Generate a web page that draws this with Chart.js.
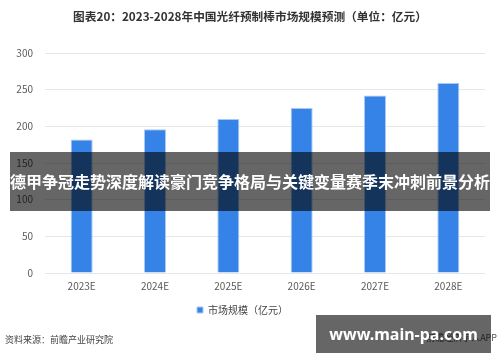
<!DOCTYPE html>
<html>
<head>
<meta charset="utf-8">
<script src="https://cdn.jsdelivr.net/npm/chart.js@4"></script>
<style>
  html, body { margin: 0; padding: 0; background: #fff; }
  #wrap { position: relative; width: 500px; height: 362px; overflow: hidden;
          font-family: 'Noto Sans CJK SC', 'Noto Sans', sans-serif; }
  #chart { position: absolute; left: 0; top: 0; }
  .title { position: absolute; left: 0; top: 7px; width: 500px; text-align: center;
           font-size: 11.7px; font-weight: bold; color: #333; white-space: nowrap; }
  .source { position: absolute; left: 5px; top: 333px; font-size: 9px; color: #444; }
  .app { position: absolute; right: 3px; top: 331px; font-size: 9px; color: #555; }
  .banner { position: absolute; left: 10px; top: 152px; width: 480px; height: 59px;
            background: rgba(0,0,0,0.6); color: #fff; font-weight: bold; font-size: 16px;
            line-height: 59px; text-align: center; white-space: nowrap; }
  .pill { position: absolute; left: 316px; top: 315px; width: 175px; height: 38px;
          background: rgba(0,0,0,0.6); color: #fff; font-weight: bold; font-size: 16px;
          line-height: 38px; text-align: center; white-space: nowrap;
          font-family: 'Noto Sans', sans-serif; }
</style>
</head>
<body>
<div id="wrap">
  <canvas id="chart" width="500" height="362"></canvas>
  <div class="title">图表20：2023-2028年中国光纤预制棒市场规模预测（单位：亿元）</div>
  <div class="source">资料来源：前瞻产业研究院</div>
  <div class="app">前瞻经济学人APP</div>
  <div class="banner">德甲争冠走势深度解读豪门竞争格局与关键变量赛季末冲刺前景分析</div>
  <div class="pill">www.main-pa.com</div>
</div>
<script>
// 2023-2028年中国光纤预制棒市场规模预测（亿元）
const years = ["2023E", "2024E", "2025E", "2026E", "2027E", "2028E"];
const marketSize = [182, 196, 210, 225, 242, 259];
const yTicks = [0, 50, 100, 150, 200, 250, 300];

const cjk = "'Noto Sans CJK SC', 'Noto Sans', sans-serif";

new Chart(document.getElementById("chart"), {
  type: "bar",
  data: {
    labels: years,
    datasets: [{
      label: "市场规模（亿元）",
      data: marketSize,
      backgroundColor: "#3583e6",
      borderColor: "#a9c9f5",
      borderWidth: 1,
      barPercentage: 0.3,
      categoryPercentage: 1
    }]
  },
  options: {
    responsive: false,
    animation: false,
    layout: { padding: { left: 0, right: 15, top: 53, bottom: 37 } },
    plugins: {
      title: { display: false },
      legend: {
        position: "bottom",
        labels: {
          color: "#444",
          font: { family: cjk, size: 10 },
          boxWidth: 6,
          boxHeight: 6,
          padding: 6
        }
      },
      tooltip: { enabled: false }
    },
    scales: {
      x: {
        grid: { display: false, drawTicks: false },
        border: { display: false },
        ticks: { color: "#595959", font: { family: cjk, size: 10 }, padding: 7 }
      },
      y: {
        min: 0,
        max: 300,
        afterBuildTicks: (s) => { s.ticks = yTicks.map(v => ({ value: v })); },
        afterFit: (s) => { s.width = 45; },
        border: { display: false },
        grid: { color: "#e6e6e6", drawTicks: false },
        ticks: { color: "#595959", font: { family: cjk, size: 10 }, padding: 12 }
      }
    }
  }
});
</script>
</body>
</html>
